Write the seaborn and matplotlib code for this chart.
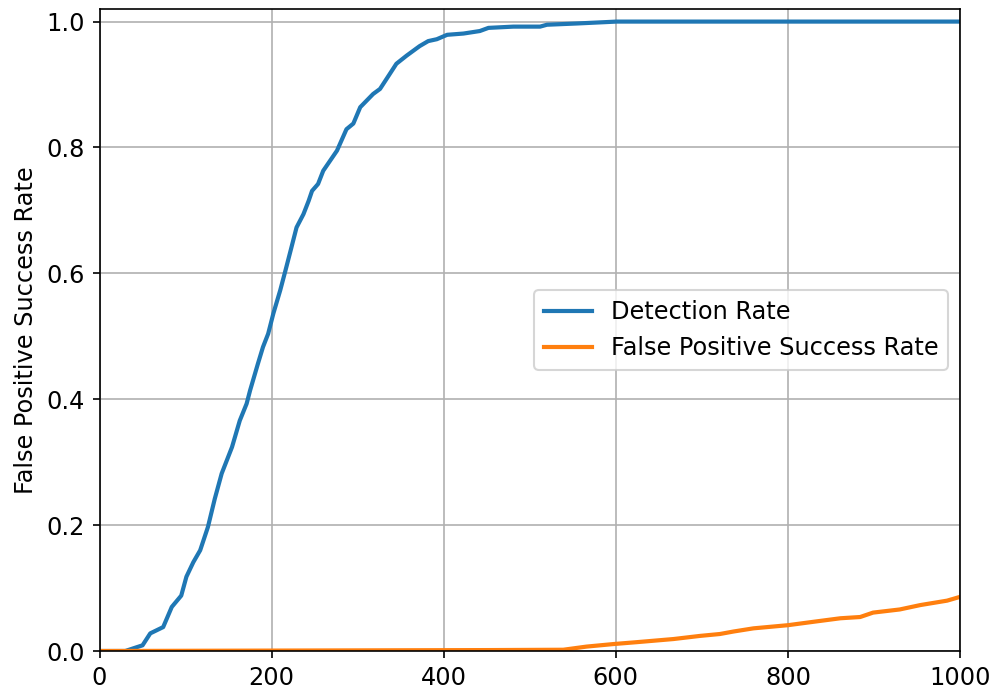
import matplotlib
matplotlib.use("Agg")
import matplotlib.pyplot as plt
import seaborn as sns
import pandas as pd

# Threshold values and the corresponding rates
det_x = [0, 30, 41, 50, 59, 74, 84, 95, 101, 109, 117, 126, 134, 142, 154, 163,
         171, 175, 184, 190, 196, 202, 210, 216, 223, 229, 237, 243, 247, 254,
         260, 276, 287, 295, 303, 318, 326, 336, 345, 357, 372, 382, 392, 404,
         423, 442, 452, 481, 512, 520, 555, 601, 1000]
det_rate = [0, 0, 0.005, 0.009, 0.028, 0.038, 0.070, 0.088, 0.118, 0.141, 0.160,
            0.197, 0.242, 0.282, 0.324, 0.366, 0.393, 0.414, 0.456, 0.483, 0.504,
            0.536, 0.573, 0.604, 0.641, 0.673, 0.694, 0.715, 0.731, 0.742, 0.763,
            0.795, 0.829, 0.838, 0.864, 0.885, 0.893, 0.914, 0.933, 0.946, 0.961,
            0.969, 0.972, 0.979, 0.981, 0.985, 0.990, 0.992, 0.992, 0.995, 0.997,
            1.0, 1.0]

fp_x = [0, 457, 539, 566, 597, 624, 667, 698, 721, 737, 760, 800, 833, 861, 884,
        899, 930, 954, 985, 1000]
fp_rate = [0, 0.0015, 0.002, 0.007, 0.011, 0.014, 0.019, 0.024, 0.027, 0.031,
           0.036, 0.041, 0.047, 0.052, 0.054, 0.061, 0.066, 0.073, 0.080, 0.086]

det_df = pd.DataFrame({"threshold": det_x, "rate": det_rate})
fp_df = pd.DataFrame({"threshold": fp_x, "rate": fp_rate})

plt.rcParams["font.size"] = 11.5
plt.rcParams["font.family"] = ["DejaVu Sans"]

fig = plt.figure(figsize=(994 / 150, 695 / 150), dpi=150)
ax = fig.add_axes([99.5 / 994, 1 - 651 / 695, (960 - 99.5) / 994, (651 - 9) / 695])

sns.lineplot(data=det_df, x="threshold", y="rate", ax=ax, color="#1f77b4",
             linewidth=2, label="Detection Rate")
sns.lineplot(data=fp_df, x="threshold", y="rate", ax=ax, color="#ff7f0e",
             linewidth=2, label="False Positive Success Rate")

ax.set_xlim(0, 1000)
ax.set_ylim(0, 1.02)
ax.set_xticks([0, 200, 400, 600, 800, 1000])
ax.set_yticks([0.0, 0.2, 0.4, 0.6, 0.8, 1.0])
ax.grid(True, color="#b0b0b0", linewidth=0.8)
ax.set_axisbelow(True)
ax.set_xlabel("")
ax.set_ylabel("False Positive Success Rate")
ax.legend(loc="center right")

fig.savefig("out.png", dpi=150)
